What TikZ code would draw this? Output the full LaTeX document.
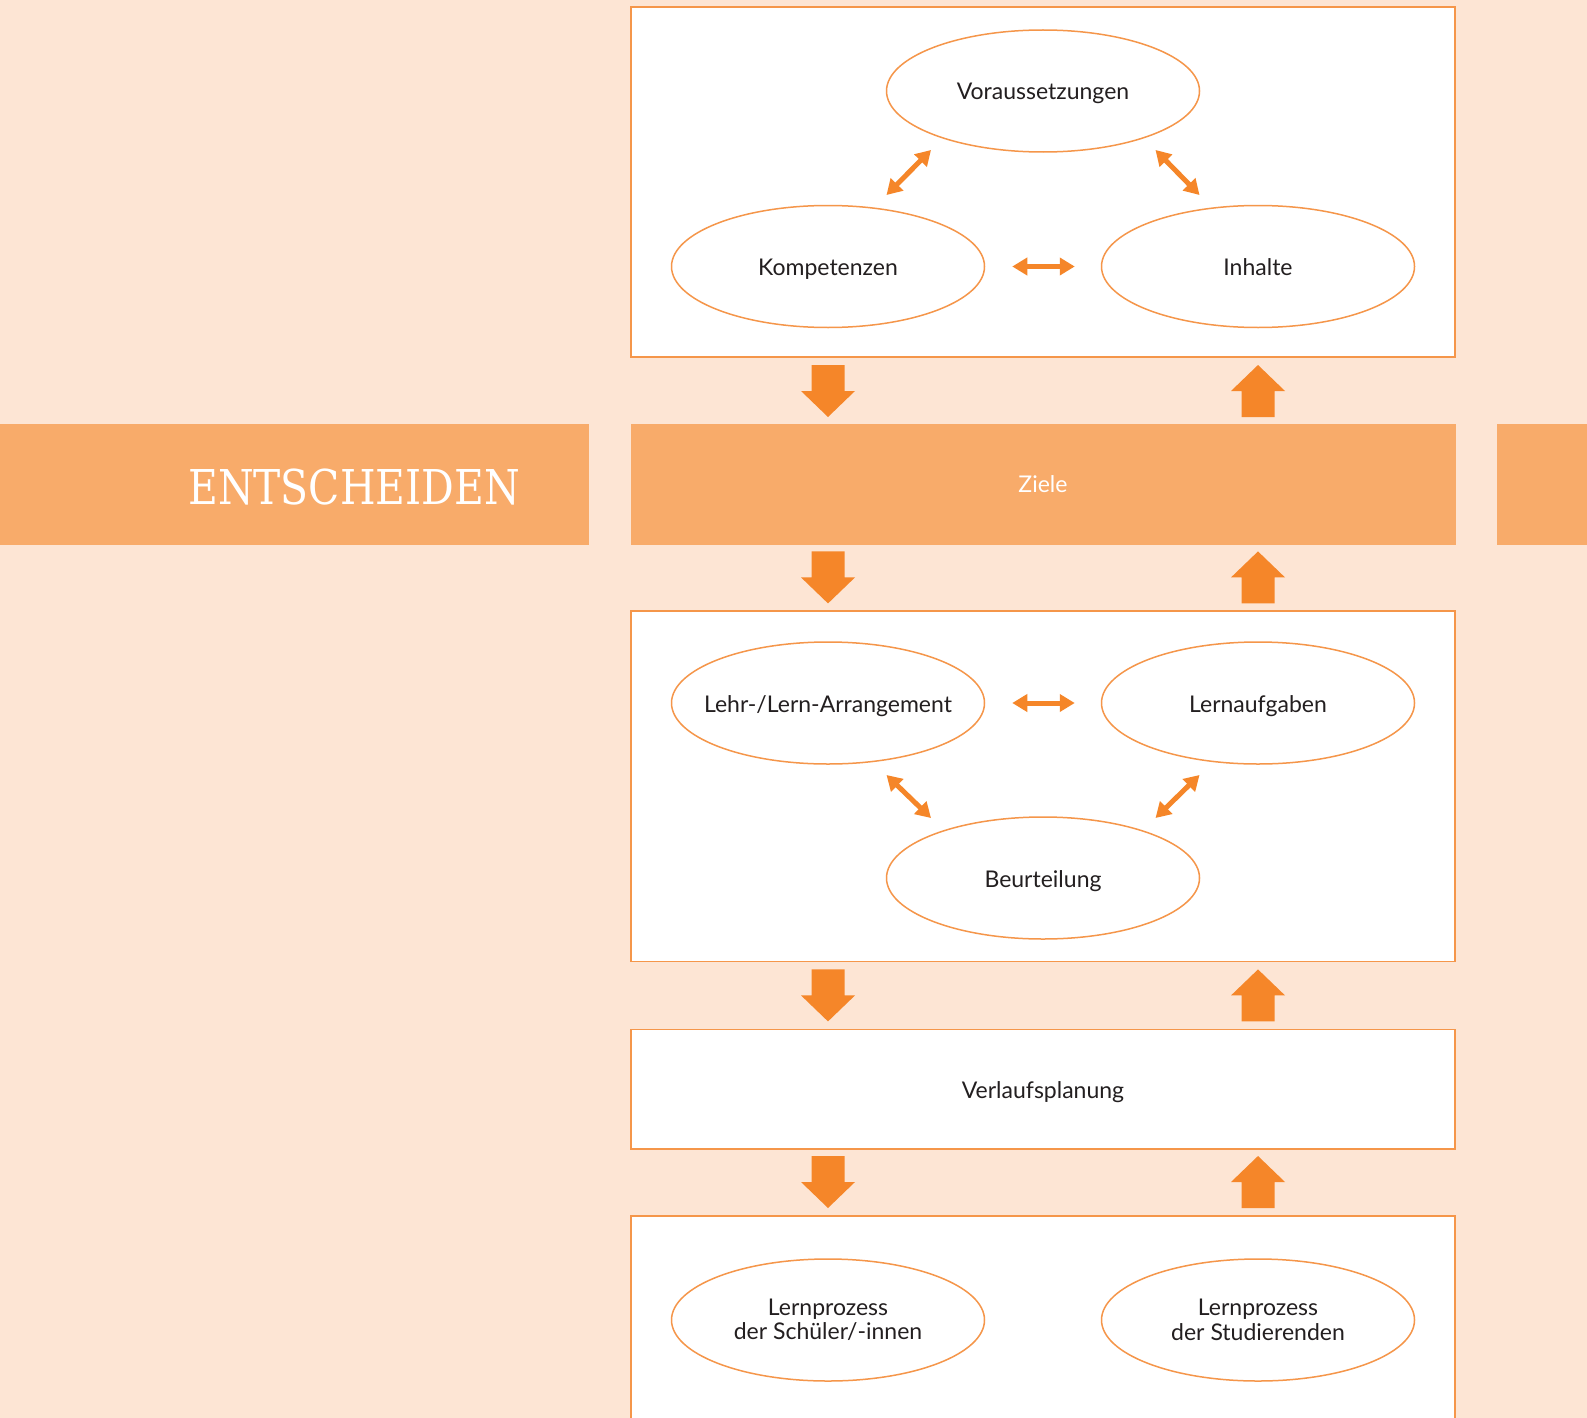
\documentclass[tikz,border=0pt]{standalone}
\usepackage{fontspec}
\setmainfont{Lato}
\newfontfamily\slabfont{DejaVu Serif}
\usetikzlibrary{shapes.geometric,arrows.meta}
\definecolor{peach}{HTML}{FDE5D4}
\definecolor{bandorange}{HTML}{F8AB6A}
\definecolor{arroworange}{HTML}{F58629}
\definecolor{lineorange}{HTML}{F5964A}
\definecolor{textgray}{HTML}{231F20}
\tikzset{
  field/.style={draw=lineorange,fill=white,line width=1.5pt},
  topic/.style={ellipse,draw=lineorange,fill=white,line width=1.5pt,minimum width=313pt,minimum height=122pt,
    inner ysep=0pt,inner xsep=-40pt,font=\fontsize{23}{24.5}\selectfont,text=textgray,align=center},
  word/.style={topic,text height=18pt,text depth=0pt},
  link/.style={arroworange,line width=5pt,{Triangle[length=15pt,width=17pt]}-{Triangle[length=15pt,width=17pt]}},
  fatdown/.pic={\fill[arroworange] (-16.5,-26) -- (16.5,-26) -- (16.5,0) -- (27,0) -- (0,26) -- (-27,0) -- (-16.5,0) -- cycle;},
  fatup/.pic={\fill[arroworange] (-16.5,26) -- (16.5,26) -- (16.5,0) -- (27,0) -- (0,-26) -- (-27,0) -- (-16.5,0) -- cycle;},
}
\begin{document}
\begin{tikzpicture}[x=1pt,y=-1pt]
\useasboundingbox (0,0) rectangle (1587,1418);
\clip (0,0) rectangle (1587,1418);
\fill[peach] (0,0) rectangle (1587,1418);
% side bands
\fill[bandorange] (0,424) rectangle (589,545);
\fill[bandorange] (1497,424) rectangle (1587,545);
\node[anchor=base,text=white,font=\slabfont\fontsize{48}{58}\selectfont] (entsch) at (354,504) {\scalebox{0.85}[1]{ENTSCHEIDEN}};
% frames
\draw[field] (631,7) rectangle (1455,357);
\node[fill=bandorange,minimum width=825pt,minimum height=121pt,text=white,font=\fontsize{23}{26}\selectfont] (ziele) at (1043,484.5) {Ziele};
\draw[field] (631,611) rectangle (1455,961.5);
\node[field,minimum width=824pt,minimum height=119.5pt,text height=18pt,text depth=0pt,text=textgray,font=\fontsize{23}{26}\selectfont] (verlauf) at (1043,1089) {Verlaufsplanung};
\draw[field] (631,1216) rectangle (1455,1440);
% ellipses
\node[word] (voraus) at (1043,91) {Voraussetzungen};
\node[word] (kompet) at (828,266.5) {Kompetenzen};
\node[word] (inhalte) at (1258,266.5) {Inhalte};
\node[word] (arrang) at (828,703) {Lehr-/Lern-Arrangement};
\node[word] (aufgab) at (1258,703) {Lernaufgaben};
\node[word] (beurt) at (1043,878) {Beurteilung};
\node[topic] (lpschueler) at (828,1320) {Lernprozess\\der Schüler/-innen};
\node[topic] (lpstud) at (1258,1320) {Lernprozess\\der Studierenden};
% small links
\coordinate (kv1) at (886.5,195);
\coordinate (kv2) at (931,150);
\coordinate (vi1) at (1155.5,150);
\coordinate (vi2) at (1199.5,195);
\coordinate (ab1) at (886.5,775);
\coordinate (ab2) at (931,818);
\coordinate (bl1) at (1155.5,818);
\coordinate (bl2) at (1199.5,775);
\draw[link] (kv1) -- (kv2);
\draw[link] (vi1) -- (vi2);
\draw[link,shorten <=27pt,shorten >=26pt] (kompet) -- (inhalte);
\draw[link,shorten <=27pt,shorten >=26pt] (arrang) -- (aufgab);
\draw[link] (ab1) -- (ab2);
\draw[link] (bl1) -- (bl2);
% block arrows
\foreach \y in {391,577.4,995.4,1182} {
  \pic at (828,\y) {fatdown};
  \pic at (1258,\y) {fatup};
}
\end{tikzpicture}
\end{document}
